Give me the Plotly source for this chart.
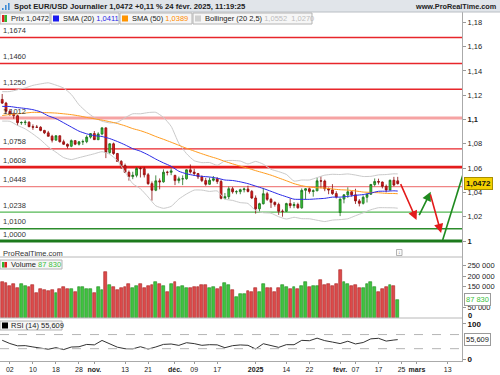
import plotly.graph_objects as go
import pandas as pd

# ---------------- data ----------------
first_day = "2024-09-30"
axis_last_day = "2025-03-31"
market_holidays = ["2024-12-25", "2025-01-01"]

opens = [1.1165,1.1135,1.1068,1.1047,1.1031,1.0974,1.0975,1.0978,1.0941,1.0937,
1.0936,1.0910,1.0890,1.0862,1.0830,1.0866,1.0817,1.0796,1.0780,1.0826,
1.0797,1.0816,1.0818,1.0855,1.0884,1.0834,1.0881,1.0931,1.0729,1.0800,
1.0720,1.0655,1.0621,1.0565,1.0530,1.0541,1.0597,1.0595,1.0545,1.0472,
1.0418,1.0495,1.0487,1.0566,1.0565,1.0540,1.0497,1.0512,1.0512,1.0586,
1.0567,1.0555,1.0528,1.0497,1.0467,1.0500,1.0512,1.0490,1.0351,1.0365,
1.0430,1.0405,1.0406,1.0422,1.0428,1.0408,1.0354,1.0265,1.0307,1.0389,
1.0343,1.0318,1.0300,1.0244,1.0244,1.0308,1.0291,1.0300,1.0273,1.0417,
1.0430,1.0408,1.0413,1.0495,1.0493,1.0430,1.0420,1.0390,1.0235,1.0345,
1.0380,1.0405,1.0380,1.0330,1.0310,1.0360,1.0385,1.0465,1.0490,1.0485,
1.0450,1.0420,1.0500,1.0495]
highs = [1.1210,1.1145,1.1085,1.1057,1.1040,1.0985,1.0995,1.0985,1.0960,1.0955,
1.0945,1.0915,1.0906,1.0874,1.0870,1.0868,1.0834,1.0803,1.0836,1.0830,
1.0823,1.0835,1.0870,1.0888,1.0905,1.0895,1.0937,1.0936,1.0805,1.0810,
1.0725,1.0666,1.0637,1.0580,1.0570,1.0607,1.0609,1.0610,1.0560,1.0490,
1.0540,1.0515,1.0590,1.0578,1.0597,1.0545,1.0530,1.0540,1.0590,1.0630,
1.0595,1.0560,1.0540,1.0520,1.0523,1.0535,1.0525,1.0505,1.0395,1.0448,
1.0445,1.0418,1.0430,1.0440,1.0455,1.0420,1.0375,1.0315,1.0437,1.0405,
1.0355,1.0326,1.0315,1.0260,1.0315,1.0350,1.0320,1.0315,1.0433,1.0435,
1.0440,1.0425,1.0522,1.0533,1.0505,1.0440,1.0468,1.0410,1.0350,1.0385,
1.0442,1.0410,1.0430,1.0345,1.0375,1.0385,1.0470,1.0515,1.0513,1.0490,
1.0465,1.0505,1.0528,1.0528]
lows = [1.1128,1.1046,1.1030,1.1006,1.0950,1.0956,1.0954,1.0937,1.0915,1.0930,
1.0903,1.0880,1.0860,1.0811,1.0829,1.0810,1.0791,1.0761,1.0772,1.0789,
1.0786,1.0790,1.0805,1.0843,1.0833,1.0830,1.0870,1.0682,1.0717,1.0709,
1.0652,1.0594,1.0560,1.0497,1.0509,1.0524,1.0523,1.0523,1.0462,1.0332,
1.0410,1.0425,1.0480,1.0540,1.0542,1.0460,1.0475,1.0460,1.0505,1.0555,
1.0535,1.0510,1.0485,1.0455,1.0463,1.0490,1.0470,1.0343,1.0343,1.0345,
1.0390,1.0385,1.0385,1.0400,1.0400,1.0345,1.0225,1.0240,1.0300,1.0330,
1.0272,1.0283,1.0215,1.0200,1.0240,1.0270,1.0270,1.0266,1.0265,1.0340,
1.0390,1.0365,1.0410,1.0434,1.0410,1.0385,1.0380,1.0350,1.0205,1.0310,
1.0355,1.0365,1.0305,1.0285,1.0300,1.0317,1.0380,1.0450,1.0465,1.0433,
1.0400,1.0415,1.0450,1.0465]
closes = [1.1135,1.1068,1.1047,1.1031,1.0974,1.0975,1.0978,1.0941,1.0937,1.0936,
1.0910,1.0890,1.0862,1.0830,1.0866,1.0817,1.0796,1.0780,1.0826,1.0797,
1.0816,1.0818,1.0855,1.0884,1.0834,1.0881,1.0931,1.0729,1.0800,1.0720,
1.0655,1.0621,1.0565,1.0530,1.0541,1.0597,1.0595,1.0545,1.0472,1.0418,
1.0495,1.0487,1.0566,1.0565,1.0577,1.0497,1.0512,1.0512,1.0586,1.0567,
1.0555,1.0528,1.0497,1.0467,1.0500,1.0512,1.0490,1.0351,1.0365,1.0430,
1.0405,1.0406,1.0422,1.0428,1.0408,1.0354,1.0265,1.0307,1.0389,1.0343,
1.0318,1.0300,1.0244,1.0244,1.0308,1.0291,1.0300,1.0273,1.0417,1.0430,
1.0408,1.0413,1.0495,1.0493,1.0430,1.0420,1.0390,1.0362,1.0345,1.0380,
1.0405,1.0380,1.0330,1.0310,1.0360,1.0385,1.0465,1.0490,1.0485,1.0450,
1.0420,1.0500,1.0460,1.0472]
close_before_first = 1.1163
volumes = [173000,168000,154000,163000,144000,162000,152000,148000,156000,120000,
138000,133000,130000,133000,120000,140000,146000,140000,138000,124000,
148000,148000,138000,138000,120000,148000,132000,219000,156000,146000,
133000,143000,146000,163000,144000,152000,163000,143000,152000,159000,
170000,163000,151000,124000,160000,171000,148000,154000,144000,141000,
146000,146000,157000,157000,141000,150000,138000,148000,167000,157000,
133000,98000,113000,113000,130000,
125000,144000,122000,163000,144000,144000,125000,144000,157000,148000,
140000,148000,140000,152000,171000,146000,152000,154000,180000,156000,
163000,154000,163000,227000,171000,163000,152000,156000,144000,141000,
163000,170000,148000,122000,138000,146000,156000,152000,87830]

# indicator values (every second bar + last bar)
ind_bars = list(range(0, 104, 2)) + [103]
sma20 = [1.1108,1.1107,1.1098,1.1091,1.1081,1.1063,1.1030,1.1007,1.0973,1.0938,
1.0904,1.0882,1.0867,1.0860,1.0843,1.0819,1.0791,1.0760,1.0739,1.0709,
1.0674,1.0643,1.0615,1.0574,1.0553,1.0540,1.0532,1.0527,1.0517,1.0502,
1.0498,1.0487,1.0472,1.0452,1.0432,1.0409,1.0385,1.0364,1.0344,1.0343,
1.0343,1.0347,1.0351,1.0361,1.0361,1.0367,1.0376,1.0382,1.0395,1.0409,
1.0410,1.0413,1.0411]
boll_up = [1.1229,1.1230,1.1245,1.1260,1.1281,1.1293,1.1302,1.1283,1.1259,1.1206,
1.1121,1.1062,1.1016,1.0986,1.0972,1.0977,1.1015,1.1047,1.1047,1.1057,
1.1059,1.1017,1.0944,1.0804,1.0719,1.0661,1.0645,1.0646,1.0623,1.0660,
1.0663,1.0658,1.0634,1.0655,1.0632,1.0590,1.0571,1.0548,1.0493,1.0502,
1.0502,1.0522,1.0542,1.0549,1.0547,1.0552,1.0543,1.0531,1.0532,1.0544,
1.0547,1.0553,1.0552]
boll_low = [1.0987,1.0985,1.0951,1.0923,1.0881,1.0833,1.0775,1.0731,1.0687,1.0670,
1.0686,1.0702,1.0718,1.0735,1.0714,1.0662,1.0567,1.0472,1.0430,1.0362,
1.0290,1.0269,1.0285,1.0345,1.0387,1.0419,1.0419,1.0408,1.0412,1.0345,
1.0334,1.0316,1.0309,1.0250,1.0233,1.0229,1.0200,1.0181,1.0195,1.0184,
1.0183,1.0171,1.0160,1.0172,1.0176,1.0183,1.0208,1.0232,1.0257,1.0274,
1.0274,1.0273,1.0270]
sma50 = [1.1033,1.1041,1.1047,1.1053,1.1059,1.1058,1.1056,1.1053,1.1047,1.1040,
1.1030,1.1017,1.1006,1.0995,1.0982,1.0967,1.0948,1.0925,1.0908,1.0886,
1.0860,1.0837,1.0813,1.0788,1.0763,1.0740,1.0718,1.0697,1.0678,1.0655,
1.0635,1.0616,1.0599,1.0579,1.0561,1.0542,1.0519,1.0496,1.0472,1.0455,
1.0444,1.0438,1.0436,1.0428,1.0422,1.0419,1.0412,1.0403,1.0400,1.0397,
1.0392,1.0391,1.0389]
rsi14 = [53.8,44.6,38.0,38.6,34.9,32.4,28.3,32.9,27.4,34.6,
35.4,42.0,40.7,53.3,42.8,34.2,29.8,29.5,35.5,28.9,
34.8,42.1,43.2,39.3,46.9,44.3,39.5,41.3,40.8,32.7,
38.5,40.6,39.5,29.2,44.0,38.7,33.7,41.4,41.2,53.6,
52.5,59.8,52.8,48.7,44.4,51.1,43.4,47.5,57.9,59.4,
51.5,54.5,55.609]

# horizontal levels drawn on the chart
levels = [1.1674, 1.1460, 1.1250, 1.1012, 1.0758, 1.0608, 1.0448, 1.0238, 1.0100, 1.0000]
level_labels = ["1,1674", "1,1460", "1,1250", "1,1012", "1,0758", "1,0608", "1,0448", "1,0238", "1,0100", "1,0000"]

# projected path (bar index, price)
proj_start_bar = [103.6, 108.4, 111.4, 114.7]
proj_start_price = [1.0480, 1.0200, 1.0395, 1.0008]
proj_end_bar = [107.9, 111.6, 114.3, 120.3]
proj_end_price = [1.0173, 1.0406, 1.0066, 1.0578]

tick_dates = ["2024-10-02", "2024-10-10", "2024-10-18", "2024-10-28", "2024-11-01", "2024-11-13",
              "2024-11-21", "2024-12-02", "2024-12-09", "2024-12-17", "2025-01-02", "2025-01-14",
              "2025-01-22", "2025-02-03", "2025-02-07", "2025-02-17", "2025-02-25", "2025-03-03",
              "2025-03-13"]
tick_labels = ["02", "10", "18", "28", "<b>nov.</b>", "13", "21", "<b>déc.</b>", "09", "17",
               "<b>2025</b>", "14", "22", "<b>févr.</b>", "07", "17", "25", "<b>mars</b>", "13"]
price_ticks = [1.00, 1.02, 1.04, 1.06, 1.08, 1.10, 1.12, 1.14, 1.16, 1.18]
price_tick_labels = ["<b>1</b>", "1,02", "1,04", "1,06", "1,08", "<b>1,1</b>", "1,12", "1,14", "1,16", "1,18"]
volume_ticks = [50000, 150000, 200000, 250000]
volume_tick_labels = ["50 000", "150 000", "200 000", "250 000"]
rsi_ticks = [0, 100]
rsi_tick_labels = ["<b>0</b>", "<b>100</b>"]

# ---------------- geometry / style ----------------
FONT = "Liberation Sans"
W, H = 500, 375
PLOT_W = 462.0
RED, GREEN = "#e31b1b", "#1f8a1f"


def fx(x):
    return x / PLOT_W


def fy(y):
    return 1 - y / H


def fmt(v, nd=4):
    return f"{v:.{nd}f}".replace(".", ",")


def fmt_int(v):
    return f"{int(round(v)):,}".replace(",", " ")


all_days = [d for d in pd.bdate_range(first_day, axis_last_day)
            if d.strftime("%Y-%m-%d") not in market_holidays]
day_pos = {d.strftime("%Y-%m-%d"): i for i, d in enumerate(all_days)}
bars = list(range(len(closes)))
tick_vals = [day_pos[d] for d in tick_dates]

prev = [close_before_first] + closes[:-1]
vol_up = [c >= p for c, p in zip(closes, prev)]
vol_fill = ["#3fc43f" if u else "#dc4a4a" for u in vol_up]
vol_edge = ["#1d8a1d" if u else "#a82020" for u in vol_up]

fig = go.Figure()

# Bollinger, SMAs
for arr in (boll_up, boll_low):
    fig.add_trace(go.Scatter(x=ind_bars, y=arr, mode="lines", line=dict(color="#cacaca", width=1, shape="spline", smoothing=0.5),
                             hoverinfo="skip", showlegend=False))
fig.add_trace(go.Scatter(x=ind_bars, y=sma50, mode="lines", line=dict(color="#ff9c1e", width=1, shape="spline", smoothing=0.5),
                         hoverinfo="skip", showlegend=False))
fig.add_trace(go.Scatter(x=ind_bars, y=sma20, mode="lines", line=dict(color="#2a2ae6", width=1, shape="spline", smoothing=0.5),
                         hoverinfo="skip", showlegend=False))

fig.add_trace(go.Candlestick(
    x=bars, open=opens, high=highs, low=lows, close=closes,
    increasing=dict(line=dict(color="#1b6f1b", width=0.8), fillcolor="#35c935"),
    decreasing=dict(line=dict(color="#8c0d0d", width=0.8), fillcolor="#e31b1b"),
    whiskerwidth=0, showlegend=False, hoverinfo="skip"))

# last (off-chart) projection leg
fig.add_trace(go.Scatter(x=[proj_start_bar[-1], proj_end_bar[-1]], y=[proj_start_price[-1], proj_end_price[-1]],
                         mode="lines", line=dict(color=GREEN, width=1.6), hoverinfo="skip", showlegend=False))

# volume
fig.add_trace(go.Bar(x=bars, y=volumes, yaxis="y2", width=0.74,
                     marker=dict(color=vol_fill, line=dict(color=vol_edge, width=0.6)),
                     hoverinfo="skip", showlegend=False))

# RSI
fig.add_trace(go.Scatter(x=ind_bars, y=rsi14, yaxis="y3", mode="lines",
                         line=dict(color="#333333", width=1), hoverinfo="skip", showlegend=False))

shapes = []
annotations = []

# horizontal levels
level_styles = [("#e8262b", 1.5), ("#e8262b", 1.5), ("#e8262b", 1.5), ("#f6a3a3", 3), ("#e8262b", 1.3),
                ("#e41c1c", 2.8), ("#f08585", 1.3), ("#55b855", 1.3), ("#2c8c2c", 1.5), ("#1c7a1c", 2.8)]
for lv, lab, (col, wd) in zip(levels, level_labels, level_styles):
    shapes.append(dict(type="line", xref="paper", yref="y", x0=0, x1=1, y0=lv, y1=lv,
                       line=dict(color=col, width=wd), layer="below"))
    annotations.append(dict(xref="paper", yref="y", x=fx(0.5), y=lv, text=lab, showarrow=False,
                            xanchor="left", yanchor="bottom", yshift=0.5,
                            font=dict(family=FONT, size=7.5, color="#333")))

# projection arrows
proj_colors = [RED, GREEN, RED]
for i, col in enumerate(proj_colors):
    annotations.append(dict(xref="x", yref="y", axref="x", ayref="y",
                            x=proj_end_bar[i], y=proj_end_price[i],
                            ax=proj_start_bar[i], ay=proj_start_price[i],
                            showarrow=True, arrowhead=2, arrowsize=1.15, arrowwidth=1.6,
                            arrowcolor=col, text=""))

# RSI guide lines
for lvl in (70, 30):
    shapes.append(dict(type="line", xref="paper", yref="y3", x0=0, x1=1, y0=lvl, y1=lvl,
                       line=dict(color="#b5b5b5", width=1, dash="dash")))

# panel separators
for yy in (257, 318):
    shapes.append(dict(type="line", xref="paper", yref="paper", x0=0, x1=1, y0=fy(yy), y1=fy(yy),
                       line=dict(color="#b8b8b8", width=1)))

# header bar
shapes.append(dict(type="rect", xref="paper", yref="paper", x0=0, x1=fx(W), y0=fy(12), y1=1,
                   fillcolor="#e1e5ea", line=dict(width=0), layer="below"))
shapes.append(dict(type="line", xref="paper", yref="paper", x0=0, x1=fx(W), y0=fy(12), y1=fy(12),
                   line=dict(color="#b9bec4", width=1)))
# header icon
for k, (x0, y0) in enumerate([(2, 8), (5, 5), (8, 3)]):
    shapes.append(dict(type="rect", xref="paper", yref="paper", x0=fx(x0), x1=fx(x0 + 1.6),
                       y0=fy(10), y1=fy(y0), fillcolor="#3d8ad6", line=dict(width=0)))


def box(x0, x1, y0, y1):
    shapes.append(dict(type="rect", xref="paper", yref="paper", x0=fx(x0), x1=fx(x1), y0=fy(y1), y1=fy(y0),
                       fillcolor="#f6f6f6", line=dict(color="#b4b4b4", width=1)))


def swatch(x0, x1, y0, y1, col):
    shapes.append(dict(type="rect", xref="paper", yref="paper", x0=fx(x0), x1=fx(x1), y0=fy(y1), y1=fy(y0),
                       fillcolor=col, line=dict(width=0)))


def note(x, y, text, size=7.5, color="#222", xanchor="left", yanchor="middle", **kw):
    annotations.append(dict(xref="paper", yref="paper", x=fx(x), y=fy(y), text=text, showarrow=False,
                            xanchor=xanchor, yanchor=yanchor,
                            font=dict(family=FONT, size=size, color=color), **kw))


note(12, 6, f"<b>Spot EUR/USD Journalier {fmt(closes[-1])} +0,11 % 24 févr. 2025, 11:19:25</b>", size=7.7)
note(499, 6, "<b>www.ProRealTime.com</b>", size=7.3, xanchor="right")

# price legend row
box(0, 50, 13, 24)
swatch(2, 4.5, 15, 22, "#e01e1e")
swatch(4.5, 7, 15, 22, "#2fb52f")
note(8.5, 18.5, f"Prix {fmt(closes[-1])}")
box(51, 119, 13, 24)
swatch(53, 59, 15.5, 21.5, "#1a1af0")
note(60.5, 18.5, f"SMA (20) <span style='color:#2a2ae6'>{fmt(sma20[-1])}</span>")
box(120, 192, 13, 24)
swatch(122, 128, 15.5, 21.5, "#ff9400")
note(129.5, 18.5, f"SMA (50) <span style='color:#ff8c00'>{fmt(sma50[-1])}</span>")
box(193, 312, 13, 24)
swatch(195, 201, 15.5, 21.5, "#cfcfcf")
note(202.5, 18.5, f"Bollinger (20 2,5) <span style='color:#bdbdbd'>{fmt(boll_up[-1])}  {fmt(boll_low[-1])}</span>")

# volume legend
note(1, 253.5, "ProRealTime.com", color="#333")
shapes.append(dict(type="rect", xref="paper", yref="paper", x0=fx(396.5), x1=fx(402), y0=fy(255.5), y1=fy(249.5),
                   fillcolor="#fafafa", line=dict(color="#a0a0a0", width=0.8)))
note(399.3, 252.3, "↓", size=5, color="#555", xanchor="center")
box(0, 62, 260, 269)
swatch(2, 4.5, 262, 267.5, "#2fb52f")
swatch(4.5, 7, 262, 267.5, "#e01e1e")
note(8.5, 264.5, f"Volume <span style='color:#3cbf3c'>{fmt_int(volumes[-1])}</span>")

# RSI legend
box(0, 62, 321, 330)
swatch(2, 8, 322.5, 328.5, "#000000")
note(8.5, 325.5, f"RSI (14) {fmt(rsi14[-1], 3)}")

# right side value tags
annotations.append(dict(xref="paper", yref="y", x=fx(464.5), y=closes[-1], text=f"<b>{fmt(closes[-1])}</b>",
                        showarrow=False, xanchor="left", yanchor="middle", bgcolor="#f4d000",
                        bordercolor="#a88f00", borderwidth=1, borderpad=1,
                        font=dict(family=FONT, size=8, color="#111")))
annotations.append(dict(xref="paper", yref="y2", x=fx(464.5), y=volumes[-1], text=fmt_int(volumes[-1]),
                        showarrow=False, xanchor="left", yanchor="middle", bgcolor="#ffffff",
                        bordercolor="#9a9a9a", borderwidth=1, borderpad=1,
                        font=dict(family=FONT, size=7.5, color="#3cbf3c")))
annotations.append(dict(xref="paper", yref="y3", x=fx(464.5), y=rsi14[-1], text=fmt(rsi14[-1], 3),
                        showarrow=False, xanchor="left", yanchor="middle", bgcolor="#ffffff",
                        bordercolor="#9a9a9a", borderwidth=1, borderpad=1,
                        font=dict(family=FONT, size=7.5, color="#222")))
note(466, 315, "<b>0</b>", size=7.5, color="#111")

axis_common = dict(showgrid=False, zeroline=False, automargin=False, fixedrange=True)
fig.update_layout(
    width=W, height=H, template="none",
    margin=dict(l=0, r=W - PLOT_W, t=0, b=0),
    paper_bgcolor="white", plot_bgcolor="white",
    showlegend=False, hovermode=False, bargap=0,
    xaxis=dict(domain=[0, 1], range=[-0.57, 119.74], anchor="y3", tickmode="array",
               tickvals=tick_vals, ticktext=tick_labels, ticks="outside", ticklen=2, tickcolor="#999",
               tickfont=dict(family=FONT, size=7, color="#222"), showline=True, linecolor="#aaa",
               rangeslider=dict(visible=False), **axis_common),
    yaxis=dict(domain=[fy(257), fy(12)], range=[1 - 16 / 1215, 1 + 229 / 1215], side="right", anchor="x",
               tickmode="array", tickvals=price_ticks, ticktext=price_tick_labels, ticks="outside",
               ticklen=3, tickcolor="#999", tickfont=dict(family=FONT, size=7.5, color="#222"),
               showline=True, linecolor="#aaa", **axis_common),
    yaxis2=dict(domain=[fy(318), fy(257)], range=[0, 290476], side="right", anchor="x",
                tickmode="array", tickvals=volume_ticks, ticktext=volume_tick_labels, ticks="outside",
                ticklen=3, tickcolor="#999", tickfont=dict(family=FONT, size=7.5, color="#222"),
                showline=True, linecolor="#aaa", **axis_common),
    yaxis3=dict(domain=[fy(361), fy(318)], range=[-5, 117], side="right", anchor="x",
                tickmode="array", tickvals=rsi_ticks, ticktext=rsi_tick_labels, ticks="outside",
                ticklen=3, tickcolor="#999", tickfont=dict(family=FONT, size=8, color="#111"),
                showline=True, linecolor="#aaa", **axis_common),
    shapes=shapes, annotations=annotations,
)

fig.write_html("out.html", config={"displayModeBar": False},
               post_script="document.body.style.margin='0';document.body.style.overflow='hidden';")
